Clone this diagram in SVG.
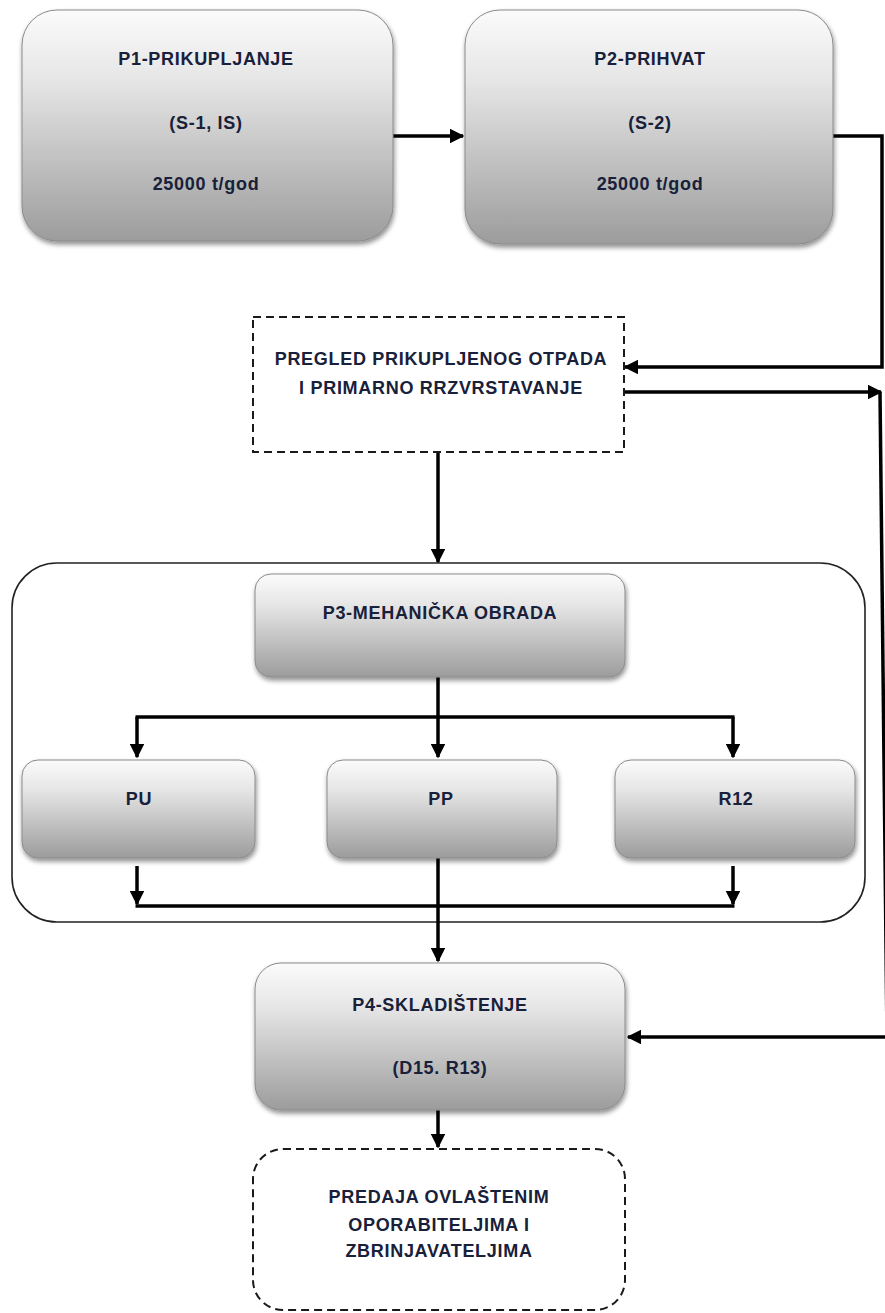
<svg xmlns="http://www.w3.org/2000/svg" width="885" height="1313" viewBox="0 0 885 1313">
<defs>
<linearGradient id="g" x1="0" y1="0" x2="0" y2="1">
<stop offset="0" stop-color="#fbfbfb"/>
<stop offset="0.3" stop-color="#e6e6e6"/>
<stop offset="1" stop-color="#9c9c9c"/>
</linearGradient>
<filter id="sh" x="-10%" y="-10%" width="125%" height="130%">
<feGaussianBlur in="SourceAlpha" stdDeviation="2.5"/>
<feOffset dx="1" dy="3"/>
<feComponentTransfer><feFuncA type="linear" slope="0.45"/></feComponentTransfer>
<feMerge><feMergeNode/><feMergeNode in="SourceGraphic"/></feMerge>
</filter>
<marker id="ah" viewBox="0 0 10 10" refX="9" refY="5" markerWidth="4.2" markerHeight="4.2" orient="auto" markerUnits="strokeWidth">
<path d="M0,0 L10,5 L0,10 Z" fill="#000"/>
</marker>
</defs>
<style>
.box{fill:url(#g);stroke:#8a8a8a;stroke-width:1;filter:url(#sh)}
.dash{fill:#fff;stroke:#1a1a1a;stroke-width:2;stroke-dasharray:8,5}
.t{font-family:"Liberation Sans",Arial,sans-serif;font-weight:bold;font-size:18px;letter-spacing:0.7px;fill:#18203a;text-anchor:middle}
.c{fill:none;stroke:#000;stroke-width:3.5}
.ca{fill:none;stroke:#000;stroke-width:3.5;marker-end:url(#ah)}
</style>
<rect width="885" height="1313" fill="#fff"/>

<g id="container">
<rect x="12" y="563" width="853" height="359" rx="45" ry="45" fill="none" stroke="#222" stroke-width="1.6"/>
</g>

<g id="connectors">
<line class="ca" x1="393" y1="136" x2="463" y2="136"/>
<polyline class="ca" points="832,136 882,136 882,367 625,367"/>
<line class="ca" x1="624" y1="392" x2="881" y2="392"/>
<line class="c" x1="880" y1="392" x2="887" y2="1037"/>
<line class="ca" x1="886" y1="1037" x2="628" y2="1037"/>
<line class="ca" x1="438" y1="452" x2="438" y2="562"/>
<line class="ca" x1="438" y1="677" x2="438" y2="757"/>
<polyline class="ca" points="137,717 137,757"/>
<polyline class="ca" points="733,717 733,757"/>
<line class="c" x1="135.5" y1="717" x2="734.5" y2="717"/>
<line class="ca" x1="137" y1="866" x2="137" y2="904"/>
<line class="ca" x1="733" y1="866" x2="733" y2="904"/>
<line class="c" x1="135.5" y1="906" x2="734.5" y2="906"/>
<line class="ca" x1="438" y1="858" x2="438" y2="961"/>
<line class="ca" x1="438" y1="1110" x2="438" y2="1147"/>
</g>

<g id="p1">
<rect class="box" x="22" y="10" width="371" height="231" rx="35" ry="35"/>
<text class="t" x="206" y="65">P1-PRIKUPLJANJE</text>
<text class="t" x="206" y="129">(S-1, IS)</text>
<text class="t" x="206" y="190">25000 t/god</text>
</g>

<g id="p2">
<rect class="box" x="465" y="10" width="368" height="234" rx="35" ry="35"/>
<text class="t" x="650" y="65">P2-PRIHVAT</text>
<text class="t" x="650" y="129">(S-2)</text>
<text class="t" x="650" y="190">25000 t/god</text>
</g>

<g id="pregled">
<rect class="dash" x="253" y="317" width="371" height="135"/>
<text class="t" x="441" y="365">PREGLED PRIKUPLJENOG OTPADA</text>
<text class="t" x="441" y="394">I PRIMARNO RRZVRSTAVANJE</text>
</g>

<g id="p3">
<rect class="box" x="255" y="574" width="370" height="103" rx="16" ry="16"/>
<text class="t" x="440" y="619">P3-MEHANIČKA OBRADA</text>
</g>

<g id="pu">
<rect class="box" x="22" y="760" width="233" height="98" rx="16" ry="16"/>
<text class="t" x="139" y="805">PU</text>
</g>

<g id="pp">
<rect class="box" x="327" y="760" width="230" height="98" rx="16" ry="16"/>
<text class="t" x="441" y="805">PP</text>
</g>

<g id="r12">
<rect class="box" x="615" y="760" width="240" height="98" rx="16" ry="16"/>
<text class="t" x="736" y="805">R12</text>
</g>

<g id="p4">
<rect class="box" x="255" y="963" width="370" height="147" rx="26" ry="26"/>
<text class="t" x="440" y="1011">P4-SKLADIŠTENJE</text>
<text class="t" x="440" y="1074">(D15. R13)</text>
</g>

<g id="predaja">
<rect class="dash" x="253" y="1149" width="372" height="161" rx="30" ry="30"/>
<text class="t" x="439" y="1203">PREDAJA OVLAŠTENIM</text>
<text class="t" x="439" y="1231">OPORABITELJIMA I</text>
<text class="t" x="439" y="1257">ZBRINJAVATELJIMA</text>
</g>
</svg>
